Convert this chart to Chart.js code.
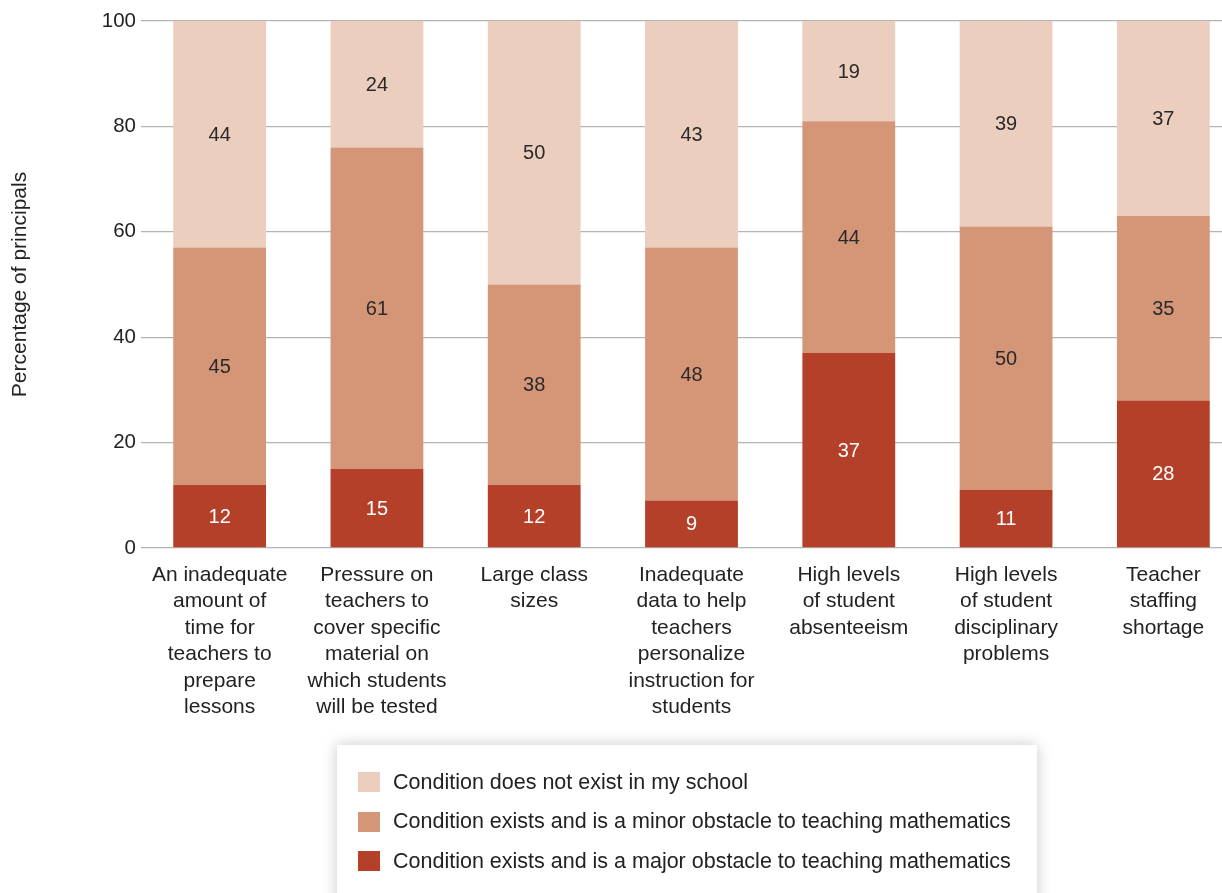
<!DOCTYPE html>
<html>
<head>
<meta charset="utf-8">
<script src="https://cdn.jsdelivr.net/npm/chart.js@4/dist/chart.umd.min.js"></script>
<style>
  body { margin: 0; background: #fff; overflow: hidden; font-family: "Liberation Sans", Arial, sans-serif; }
  #wrap { position: absolute; left: 0; top: 0; width: 1250px; height: 730px; }
  #legend {
    position: absolute; left: 337px; top: 745px; width: 700px; height: 180px;
    background: #fff; box-shadow: 0 0 14px rgba(0,0,0,0.22);
    box-sizing: border-box; padding-top: 27px; padding-left: 21px;
  }
  .item { display: flex; align-items: center; height: 20px; margin-bottom: 19.5px; font-size: 21.5px; color: #222; }
  .swatch { width: 22px; height: 20px; margin-right: 13px; flex: none; }
</style>
</head>
<body>
<div id="wrap"><canvas id="chart" width="1250" height="730"></canvas></div>
<div id="legend"></div>
<script>
/* ── Data ─────────────────────────────────────────────────────────────────── */
const CATEGORIES = [
  ['An inadequate', 'amount of', 'time for', 'teachers to', 'prepare', 'lessons'],
  ['Pressure on', 'teachers to', 'cover specific', 'material on', 'which students', 'will be tested'],
  ['Large class', 'sizes'],
  ['Inadequate', 'data to help', 'teachers', 'personalize', 'instruction for', 'students'],
  ['High levels', 'of student', 'absenteeism'],
  ['High levels', 'of student', 'disciplinary', 'problems'],
  ['Teacher', 'staffing', 'shortage']
];
const MAJOR    = [12, 15, 12,  9, 37, 11, 28];
const MINOR    = [45, 61, 38, 48, 44, 50, 35];
const NO_COND  = [44, 24, 50, 43, 19, 39, 37];
const Y_TICKS  = [0, 20, 40, 60, 80, 100];

const LABEL_MAJOR = 'Condition exists and is a major obstacle to teaching mathematics';
const LABEL_MINOR = 'Condition exists and is a minor obstacle to teaching mathematics';
const LABEL_NONE  = 'Condition does not exist in my school';

const FONT = '"Liberation Sans", Arial, sans-serif';

/* ── Bar value labels ─────────────────────────────────────────────────────── */
const valueLabels = {
  id: 'valueLabels',
  afterDatasetsDraw(chart) {
    const { ctx, chartArea } = chart;
    ctx.save();
    ctx.font = `20px ${FONT}`;
    ctx.textAlign = 'center';
    ctx.textBaseline = 'middle';
    chart.data.datasets.forEach((ds, di) => {
      const meta = chart.getDatasetMeta(di);
      meta.data.forEach((bar, i) => {
        const top = Math.max(bar.y, chartArea.top);
        const yc  = (top + bar.base) / 2 + 1;
        ctx.fillStyle = ds.labelColor;
        ctx.fillText(String(ds.data[i]), bar.x, yc);
      });
    });
    ctx.restore();
  }
};

/* ── Chart ────────────────────────────────────────────────────────────────── */
const chart = new Chart(document.getElementById('chart'), {
  type: 'bar',
  data: {
    labels: CATEGORIES,
    datasets: [
      { label: LABEL_MAJOR, data: MAJOR,   backgroundColor: '#B5402A', labelColor: '#ffffff' },
      { label: LABEL_MINOR, data: MINOR,   backgroundColor: '#D59678', labelColor: '#2a2a2a' },
      { label: LABEL_NONE,  data: NO_COND, backgroundColor: '#EBCEBE', labelColor: '#2a2a2a' }
    ]
  },
  options: {
    responsive: false,
    animation: false,
    layout: { padding: { top: 21, right: 8, left: 0, bottom: 0 } },
    datasets: { bar: { barPercentage: 0.59, categoryPercentage: 1, borderWidth: 0 } },
    plugins: {
      legend: { display: false },
      tooltip: { enabled: false }
    },
    scales: {
      x: {
        stacked: true,
        grid: { display: false },
        border: { display: false },
        ticks: {
          color: '#222', font: { family: FONT, size: 21, lineHeight: 1.26 },
          maxRotation: 0, autoSkip: false, padding: 6
        },
        afterFit: scale => { scale.height = 182; }
      },
      y: {
        stacked: true,
        min: 0, max: 100,
        afterBuildTicks: scale => { scale.ticks = Y_TICKS.map(v => ({ value: v })); },
        grid: { color: '#b4b4b4', lineWidth: 1.3, drawTicks: false },
        border: { display: false },
        ticks: { color: '#222', font: { family: FONT, size: 20.5 }, padding: 5 },
        title: {
          display: true, text: 'Percentage of principals', color: '#222',
          font: { family: FONT, size: 21 }, padding: { top: 8, bottom: 0 }
        },
        afterFit: scale => { scale.width = 141; }
      }
    }
  },
  plugins: [valueLabels]
});

/* ── HTML legend (top row first, like the reference) ─────────────────────── */
const legend = document.getElementById('legend');
[...chart.data.datasets].reverse().forEach(ds => {
  const row = document.createElement('div');
  row.className = 'item';
  row.innerHTML = `<span class="swatch" style="background:${ds.backgroundColor}"></span><span>${ds.label}</span>`;
  legend.appendChild(row);
});
</script>
</body>
</html>
